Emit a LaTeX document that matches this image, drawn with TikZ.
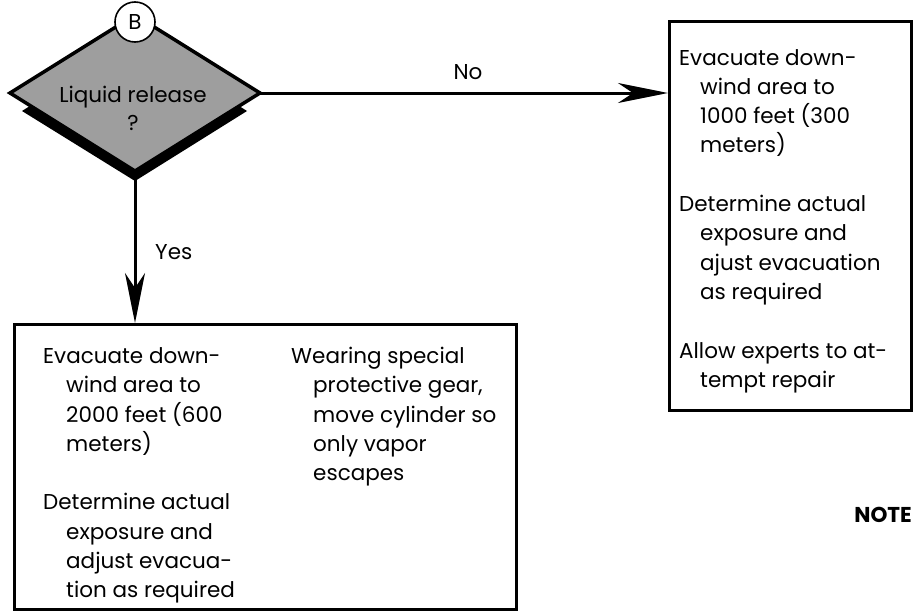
\documentclass[tikz,border=0pt]{standalone}
\usepackage{fontspec}
\setmainfont{Poppins}
\usetikzlibrary{arrows.meta,calc}

\begin{document}
\begin{tikzpicture}[x=1pt,y=-1pt,
  panel/.style={draw=black,line width=3pt,inner sep=0pt,anchor=north west},
  txt/.style={font=\fontsize{21.5}{29}\selectfont,anchor=base west,inner sep=0pt},
  lbl/.style={font=\fontsize{21.5}{29}\selectfont,anchor=base,inner sep=0pt},
  flow/.style={line width=3pt,-{Stealth[length=50pt,width=20pt,inset=15pt]}},
  decision/.style={fill=black!38,draw=black,line width=3.5pt,line join=miter},
  connector/.style={circle,draw=black,line width=1.6pt,fill=white,minimum size=40pt,inner sep=0pt,font=\fontsize{21.5}{24}\selectfont}
]
\useasboundingbox (0,0) rectangle (914,613);

% decision diamond with its drop shadow
\fill[black] (22,111) -- (135,40) -- (247,111) -- (135,181) -- cycle;
\draw[decision] (10,93) -- (135,15) -- (260,93) -- (135,171) -- cycle;
\coordinate (dq-right) at (260,93);
\coordinate (dq-bottom) at (135,180);
\node[lbl] (q1) at (133,102) {Liquid release};
\node[lbl] (q2) at (133,130) {?};
\node[connector] (conB) at (135,22) {B};

% outcome boxes
\node[panel,minimum width=242pt,minimum height=389pt] (nobox) at (668,20) {};
\node[panel,minimum width=502pt,minimum height=285pt] (yesbox) at (13,323) {};

% connectors
\draw[flow] (dq-right) -- (dq-right -| nobox.west);
\draw[flow] (dq-bottom) -- (dq-bottom |- yesbox.north);
\node[lbl] (no) at (468,79.5) {No};
\node[txt] (yes) at (155,259.5) {Yes};

% "No" branch actions
\node[txt] (r1) at (679,65) {Evacuate down-};
\node[txt] (r2) at (700,94.3) {wind area to};
\node[txt] (r3) at (700,123.6) {1000 feet (300};
\node[txt] (r4) at (700,152.9) {meters)};
\node[txt] (r5) at (679,211.5) {Determine actual};
\node[txt] (r6) at (700,240.8) {exposure and};
\node[txt] (r7) at (700,270.1) {ajust evacuation};
\node[txt] (r8) at (700,299.4) {as required};
\node[txt] (r9) at (679,358) {Allow experts to at-};
\node[txt] (r10) at (700,387.3) {tempt repair};

% "Yes" branch actions, first column
\node[txt] (a1) at (43,363.5) {Evacuate down-};
\node[txt] (a2) at (66,392.75) {wind area to};
\node[txt] (a3) at (66,422) {2000 feet (600};
\node[txt] (a4) at (66,451.25) {meters)};
\node[txt] (a5) at (43,509.75) {Determine actual};
\node[txt] (a6) at (66,539) {exposure and};
\node[txt] (a7) at (66,568.25) {adjust evacua-};
\node[txt] (a8) at (66,597.5) {tion as required};

% "Yes" branch actions, second column
\node[txt] (b1) at (291,363.5) {Wearing special};
\node[txt] (b2) at (313,392.75) {protective gear,};
\node[txt] (b3) at (313,422) {move cylinder so};
\node[txt] (b4) at (313,451.25) {only vapor};
\node[txt] (b5) at (313,480.5) {escapes};

% side note heading, set against the right margin
\node[txt,anchor=base east,font=\fontsize{21.5}{24}\bfseries] (note) at (912,522) {NOTE};
\end{tikzpicture}
\end{document}
